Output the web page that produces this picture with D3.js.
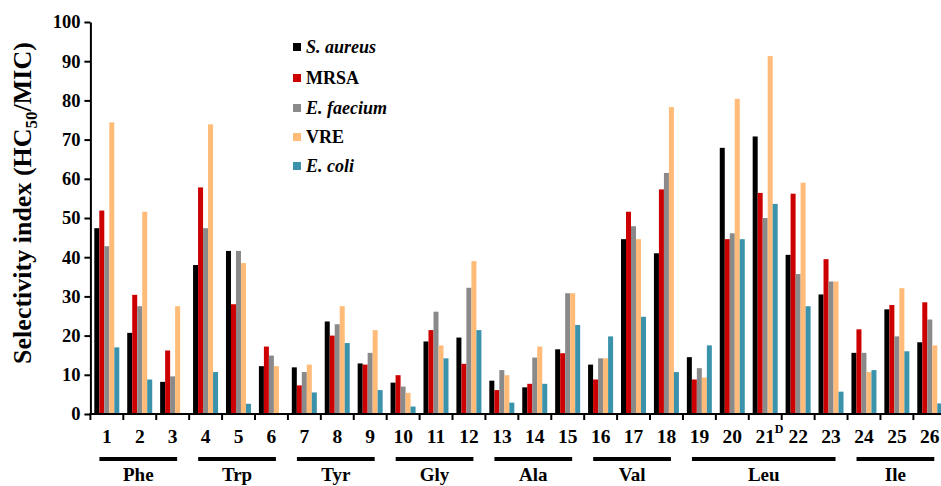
<!DOCTYPE html>
<html><head><meta charset="utf-8">
<script src="https://cdn.jsdelivr.net/npm/d3@7"></script>
<style>
html,body{margin:0;padding:0;background:#fff;}
svg{display:block;}
text{font-family:"Liberation Serif","Times New Roman",serif;font-weight:bold;fill:#000;}
</style></head>
<body>
<svg id="chart" width="941" height="486"></svg>
<script>
const categories = ["1","2","3","4","5","6","7","8","9","10","11","12","13","14","15","16","17","18","19","20","21","22","23","24","25","26"];
const superscripts = {"21":"D"};
const seriesNames = ["S. aureus","MRSA","E. faecium","VRE","E. coli"];
const seriesItalic = [true,false,true,false,true];
const seriesColors = ["#000000","#cc0000","#8a8a8a","#ffbb77","#3a93ab"];
const sAureus  = [47.4,20.7,8.2,38.0,41.6,12.2,11.9,23.6,12.9,8.0,18.5,19.5,8.5,6.8,16.5,12.6,44.6,41.0,14.5,67.9,70.8,40.6,30.5,15.6,26.7,18.3];
const mrsa     = [51.9,30.4,16.2,57.8,28.0,17.2,7.3,20.0,12.6,9.9,21.4,12.8,6.1,7.7,15.5,8.8,51.6,57.3,8.8,44.6,56.4,56.2,39.5,21.6,27.8,28.5];
const eFaecium = [42.8,27.5,9.6,47.4,41.6,14.9,10.7,22.9,15.6,7.0,26.1,32.2,11.2,14.4,30.8,14.2,47.9,61.5,11.7,46.1,50.0,35.7,33.8,15.6,19.8,24.1];
const vre      = [74.4,51.6,27.5,73.9,38.5,12.2,12.6,27.5,21.4,5.4,17.5,39.0,9.9,17.2,30.8,14.2,44.6,78.3,9.3,80.4,91.3,59.0,33.8,10.7,32.1,17.5];
const eColi    = [17.0,8.8,0,10.7,2.6,0,5.5,18.1,6.1,1.9,14.2,21.4,2.9,7.7,22.7,19.8,24.8,10.7,17.5,44.6,53.6,27.5,5.7,11.2,16.0,2.7];
const seriesValues = [sAureus, mrsa, eFaecium, vre, eColi];
const groupNames = ["Phe","Trp","Tyr","Gly","Ala","Val","Leu","Ile"];
const groupStart = [0,3,6,9,12,15,18,23];
const groupEnd   = [2,5,8,11,14,17,22,25];
const yTicks = [0,10,20,30,40,50,60,70,80,90,100];

const svg = d3.select("#chart");
const x0 = 90.4, x1 = 946.3, yTop = 22, yBot = 414;
const x = d3.scaleBand().domain(categories).range([x0, x1]).paddingInner(0).paddingOuter(0);
const bw = x.bandwidth();
const xs = d3.scaleBand().domain(d3.range(seriesNames.length)).range([3.9, 3.9 + 25]).padding(0);
const y = d3.scaleLinear().domain([0, 100]).range([yBot, yTop]);

// bars
seriesNames.forEach((name, si) => {
  svg.append("g").selectAll("rect").data(categories).join("rect")
    .attr("x", c => x(c) + xs(si))
    .attr("width", xs.bandwidth())
    .attr("y", (c, i) => y(seriesValues[si][i]))
    .attr("height", (c, i) => y(0) - y(seriesValues[si][i]))
    .attr("fill", seriesColors[si]);
});

// y axis
const yAxis = svg.append("g").attr("transform", `translate(${x0},0)`)
  .call(d3.axisLeft(y).tickValues(yTicks).tickSize(6).tickSizeOuter(0).tickPadding(4));
yAxis.select(".domain").attr("stroke", "#000").attr("stroke-width", 2);
yAxis.selectAll(".tick line").attr("stroke", "#000").attr("stroke-width", 2);
yAxis.selectAll(".tick text").style("font-family", '"Liberation Serif",serif').style("font-weight", "bold").style("font-size", "18.5px").attr("fill", "#000");

// x axis
const xAxisG = svg.append("g");
xAxisG.append("line").attr("x1", x0 - 1).attr("x2", 941).attr("y1", y(0)).attr("y2", y(0)).attr("stroke", "#000").attr("stroke-width", 2);
xAxisG.selectAll("line.tk").data(categories).join("line").attr("class", "tk")
  .attr("x1", c => x(c)).attr("x2", c => x(c)).attr("y1", y(0)).attr("y2", y(0) + 6)
  .attr("stroke", "#000").attr("stroke-width", 2);

// category labels
svg.append("g").selectAll("text").data(categories).join("text")
  .attr("x", c => x(c) + bw / 2).attr("y", 443)
  .attr("text-anchor", "middle").style("font-size", "19.5px").text(c => c);
Object.keys(superscripts).forEach(c => {
  svg.append("text").attr("x", x(c) + bw / 2 + 9.5).attr("y", 433)
    .style("font-size", "12px").text(superscripts[c]);
});

// groups
groupNames.forEach((g, gi) => {
  const a = x(categories[groupStart[gi]]);
  const b = x(categories[groupEnd[gi]]) + bw;
  const mid = (a + b) / 2 - 1.5;
  const half = ((b - a) - 21) / 2;
  svg.append("line").attr("x1", mid - half).attr("x2", mid + half).attr("y1", 459).attr("y2", 459)
    .attr("stroke", "#000").attr("stroke-width", 4);
  svg.append("text").attr("x", mid).attr("y", 481).attr("text-anchor", "middle")
    .style("font-size", "19px").text(g);
});

// y title
const yt = svg.append("text").attr("transform", "translate(31,203) rotate(-90)")
  .attr("text-anchor", "middle").style("font-size", "26px");
yt.append("tspan").text("Selectivity index (HC");
yt.append("tspan").attr("dy", 6).style("font-size", "17px").text("50");
yt.append("tspan").attr("dy", -6).text("/MIC)");

// legend
const lg = svg.append("g");
const legendY = [47, 78, 108, 137, 166];
seriesNames.forEach((n, i) => {
  lg.append("rect").attr("x", 293).attr("y", legendY[i] - 4).attr("width", 8).attr("height", 8).attr("fill", seriesColors[i]);
  lg.append("text").attr("x", 306).attr("y", legendY[i] + 6)
    .style("font-size", "18px").style("font-style", seriesItalic[i] ? "italic" : "normal").text(n);
});
</script>
</body></html>
